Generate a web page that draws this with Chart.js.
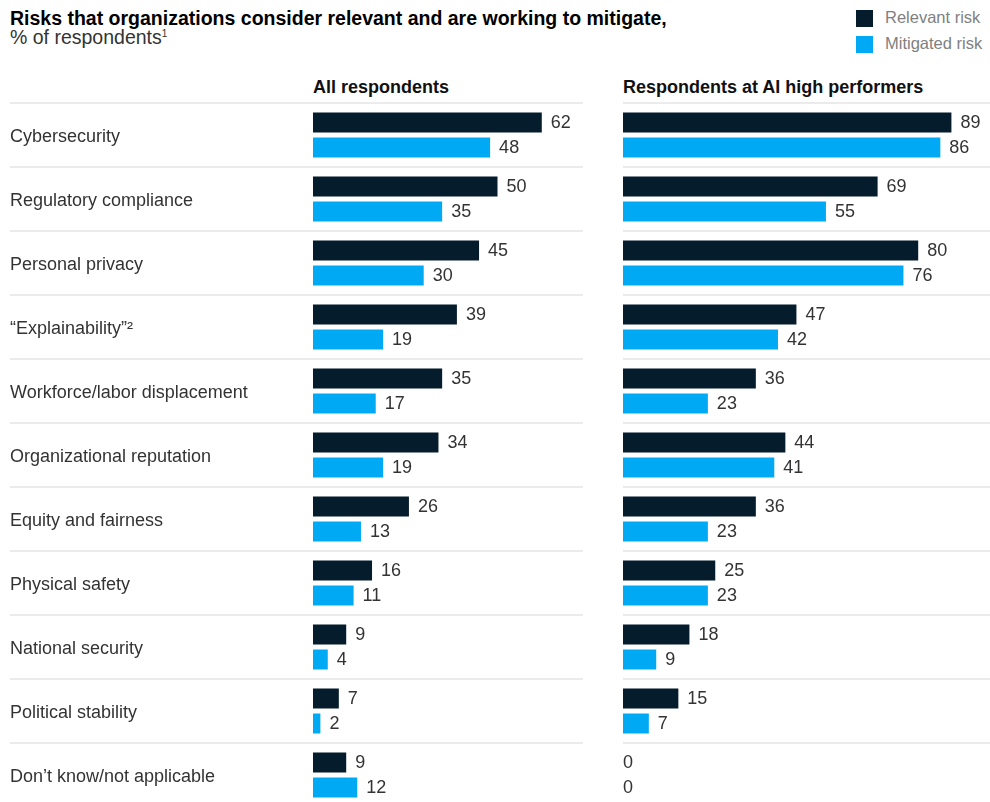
<!DOCTYPE html>
<html><head><meta charset="utf-8">
<script src="https://cdn.jsdelivr.net/npm/chart.js@4.4.1/dist/chart.umd.min.js"></script>
<style>
html,body{margin:0;padding:0;background:#fff;width:990px;height:802px;overflow:hidden;position:relative;font-family:"Liberation Sans",Arial,sans-serif;}
.abs{position:absolute;white-space:nowrap;line-height:1;}
#title{left:10px;top:8.5px;font-size:19.5px;font-weight:bold;color:#000;}
#subtitle{left:10px;top:27.5px;font-size:19.5px;color:#333;}
#subtitle sup{font-size:10px;vertical-align:top;position:relative;top:1px;line-height:1;}
.head{font-size:18px;font-weight:bold;color:#111;top:78.3px;}
.sw{position:absolute;width:17px;height:17px;}
.lt{font-size:16.5px;color:#808080;left:885px;}
canvas{position:absolute;top:0;}
</style></head>
<body>
<div id="title" class="abs">Risks that organizations consider relevant and are working to mitigate,</div>
<div id="subtitle" class="abs">% of respondents<sup>1</sup></div>
<div class="abs head" style="left:313px">All respondents</div>
<div class="abs head" style="left:623px">Respondents at AI high performers</div>
<div class="sw" style="left:856px;top:10px;background:#051c2c"></div>
<div class="abs lt" style="top:9.4px">Relevant risk</div>
<div class="sw" style="left:856px;top:35.5px;background:#00a9f4"></div>
<div class="abs lt" style="top:35.4px">Mitigated risk</div>
<canvas id="leftChart" width="600" height="819" style="left:0"></canvas>
<canvas id="rightChart" width="390" height="807" style="left:600px"></canvas>
<script>
const categories = ['Cybersecurity','Regulatory compliance','Personal privacy','\u201CExplainability\u201D\u00B2','Workforce/labor displacement','Organizational reputation','Equity and fairness','Physical safety','National security','Political stability','Don\u2019t know/not applicable'];
const seriesNames = ['Relevant risk','Mitigated risk'];
const allRelevant = [62,50,45,39,35,34,26,16,9,7,9];
const allMitigated = [48,35,30,19,17,19,13,11,4,2,12];
const highRelevant = [89,69,80,47,36,44,36,25,18,15,0];
const highMitigated = [86,55,76,42,23,41,23,23,9,7,0];

const DARK = '#051c2c', BLUE = '#00a9f4', GRID = '#ebebeb';
const PX_PER_UNIT = 3.69;

const valueLabels = {
  id: 'valueLabels',
  afterDatasetsDraw(chart) {
    const ctx = chart.ctx;
    ctx.save();
    ctx.font = '18px "Liberation Sans", Arial, sans-serif';
    ctx.fillStyle = '#333';
    ctx.textAlign = 'left';
    ctx.textBaseline = 'middle';
    chart.data.datasets.forEach((ds, di) => {
      const meta = chart.getDatasetMeta(di);
      meta.data.forEach((bar, i) => {
        const v = ds.data[i];
        const x = v === 0 ? bar.base : bar.x + 9;
        ctx.fillText(String(v), x, bar.y + 1);
      });
    });
    ctx.restore();
  }
};

function makeDatasets(a, b) {
  return [
    {label: seriesNames[0], data: a, backgroundColor: DARK, borderWidth: 0, barPercentage: 0.8, categoryPercentage: 0.78125},
    {label: seriesNames[1], data: b, backgroundColor: BLUE, borderWidth: 0, barPercentage: 0.8, categoryPercentage: 0.78125}
  ];
}

function makeChart(id, a, b, opts) {
  return new Chart(document.getElementById(id), {
    type: 'bar',
    data: {labels: categories, datasets: makeDatasets(a, b)},
    plugins: [valueLabels],
    options: {
      indexAxis: 'y',
      responsive: false,
      animation: false,
      events: [],
      layout: {padding: opts.padding},
      plugins: {legend: {display: false}, tooltip: {enabled: false}},
      scales: {
        x: {display: false, min: 0, max: opts.max},
        y: {
          display: true,
          offset: true,
          border: {display: false},
          grid: {color: GRID, lineWidth: 2, offset: true, drawTicks: opts.showLabels, tickLength: opts.tickLength},
          ticks: {display: opts.showLabels, autoSkip: false, crossAlign: 'far', padding: 0, labelOffset: 2,
                  font: {family: '"Liberation Sans", Arial, sans-serif', size: 18}, color: '#333'},
          afterFit(scale) { scale.width = opts.axisWidth; }
        }
      }
    }
  });
}

// left panel: plot area 313..583, 103..807
makeChart('leftChart', allRelevant, allMitigated, {
  padding: {left: 10, top: 103, right: 17, bottom: 12},
  max: 270 / PX_PER_UNIT, showLabels: true, tickLength: 303, axisWidth: 303
});
// right panel: plot area 623..990, 103..807
makeChart('rightChart', highRelevant, highMitigated, {
  padding: {left: 23, top: 103, right: 0, bottom: 0},
  max: 367 / PX_PER_UNIT, showLabels: false, tickLength: 0, axisWidth: 0
});
</script>
</body></html>
